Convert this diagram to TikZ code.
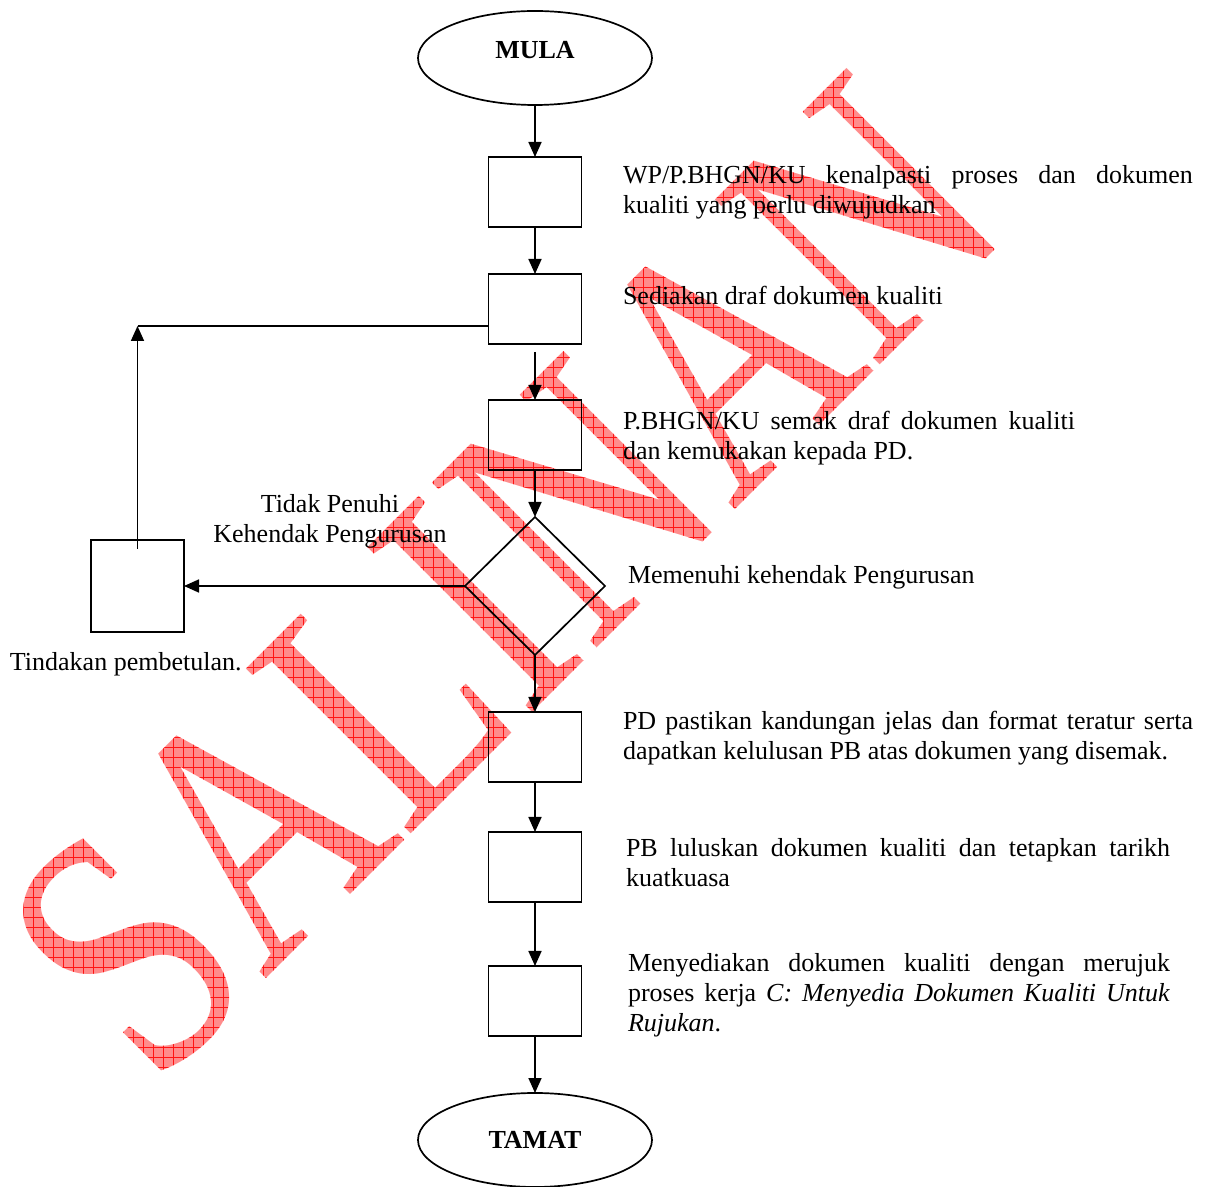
\documentclass[tikz,border=0pt]{standalone}
\usepackage{fontspec}
\setmainfont{Liberation Serif}
\usetikzlibrary{positioning, shapes.geometric, arrows.meta, fadings}

\definecolor{salinanred}{RGB}{255,140,140}
\definecolor{salinangrid}{RGB}{255,20,20}

\begin{tikzfadingfrompicture}[name=salinanfade]
  \path (-270pt,-270pt) rectangle (270pt,270pt);
  \node[rotate=45, xscale=0.78, inner sep=0, text=transparent!0, font=\fontsize{178}{178}\selectfont] {SALINAN};
\end{tikzfadingfrompicture}

\begin{document}
\begin{tikzpicture}[
  x=0.5pt, y=-0.5pt,
  line width=0.85pt,
  every node/.style={inner sep=0, outer sep=0, font=\fontsize{13}{15}\selectfont},
  kotak/.style={draw, rectangle, minimum width=46.5pt, minimum height=35pt},
  hujung/.style={draw, ellipse, minimum width=117pt, minimum height=47pt, font=\fontsize{13}{15}\selectfont\bfseries},
  semak/.style={draw, diamond, minimum width=70pt, minimum height=69pt},
  nota/.style={anchor=north west, align=justify},
  anak panah/.style={-{Triangle[length=7.5pt,width=6.5pt]}},
  tera/.style={path fading=salinanfade, fit fading=false, fading transform={shift={(salinan.center)}}}
]
\useasboundingbox (0,0) rectangle (1212,1187);

% tera air di belakang carta
\node[anchor=base west, rotate=45, xscale=0.78, font=\fontsize{178}{178}\selectfont] (salinan) at (155,1090) {\phantom{SALINAN}};
\fill[salinanred, tera] ([shift={(-270pt,-270pt)}]salinan.center) rectangle ([shift={(270pt,270pt)}]salinan.center);
\draw[salinangrid, line width=0.4pt, tera] \foreach \k in {-270,-265,...,270} {
  ([shift={(\k pt,-270pt)}]salinan.center) -- ([shift={(\k pt,270pt)}]salinan.center)
  ([shift={(-270pt,\k pt)}]salinan.center) -- ([shift={(270pt,\k pt)}]salinan.center)};

\node[hujung, text depth=8pt] (mula) at (535,58) {MULA};
\node[kotak, below=26pt of mula] (b1) {};
\node[kotak, below=23.5pt of b1] (b2) {};
\node[kotak, below=28pt of b2] (b3) {};
\node[semak, below=23.5pt of b3] (kep) {};
\node[kotak, minimum height=46pt, left=140.5pt of kep] (pembetulan) {};
\node[kotak, below=28.5pt of kep] (b4) {};
\node[kotak, below=25pt of b4] (b5) {};
\node[kotak, below=32pt of b5] (b6) {};
\node[hujung, below=28.5pt of b6] (tamat) {TAMAT};

\coordinate (balik) at (pembetulan.center |- 0,326);

\draw[anak panah] (mula) -- (b1);
\draw[anak panah] (b1) -- (b2);
\draw[anak panah] ([yshift=-4pt]b2.south) -- (b3);
\draw[anak panah] (b3) -- (kep);
\draw[anak panah] (kep) -- (b4);
\draw[anak panah] (b4) -- (b5);
\draw[anak panah] (b5) -- (b6);
\draw[anak panah] (b6) -- (tamat);
\draw[anak panah] (kep) -- (pembetulan);
\draw[anak panah] ([yshift=-4.5pt]pembetulan.north) -- (balik);
\draw (balik) -- (balik -| b2.west);

\node[nota, text width=285pt] (t1) at (623,165) {WP/P.BHGN/KU kenalpasti proses dan dokumen\linebreak kualiti yang perlu diwujudkan};
\node[anchor=base west] (t2) at (623,305) {Sediakan draf dokumen kualiti};
\node[nota, text width=226pt] (t3) at (623,411) {P.BHGN/KU semak draf dokumen kualiti\linebreak dan kemukakan kepada PD.};
\node[anchor=north, align=center] (t4) at (330,494) {Tidak Penuhi\\Kehendak Pengurusan};
\node[anchor=base west] (t5) at (628,584) {Memenuhi kehendak Pengurusan};
\node[anchor=base west] (t6) at (10,671) {Tindakan pembetulan.};
\node[nota, text width=285pt] (t7) at (623,711) {PD pastikan kandungan jelas dan format teratur serta\linebreak dapatkan kelulusan PB atas dokumen yang disemak.};
\node[nota, text width=272pt] (t8) at (626,838) {PB luluskan dokumen kualiti dan tetapkan tarikh\linebreak kuatkuasa};
\node[nota, text width=271pt] (t9) at (628,953) {Menyediakan dokumen kualiti dengan merujuk\linebreak proses kerja \textit{C: Menyedia Dokumen Kualiti Untuk}\linebreak \textit{Rujukan}.};

\end{tikzpicture}
\end{document}
